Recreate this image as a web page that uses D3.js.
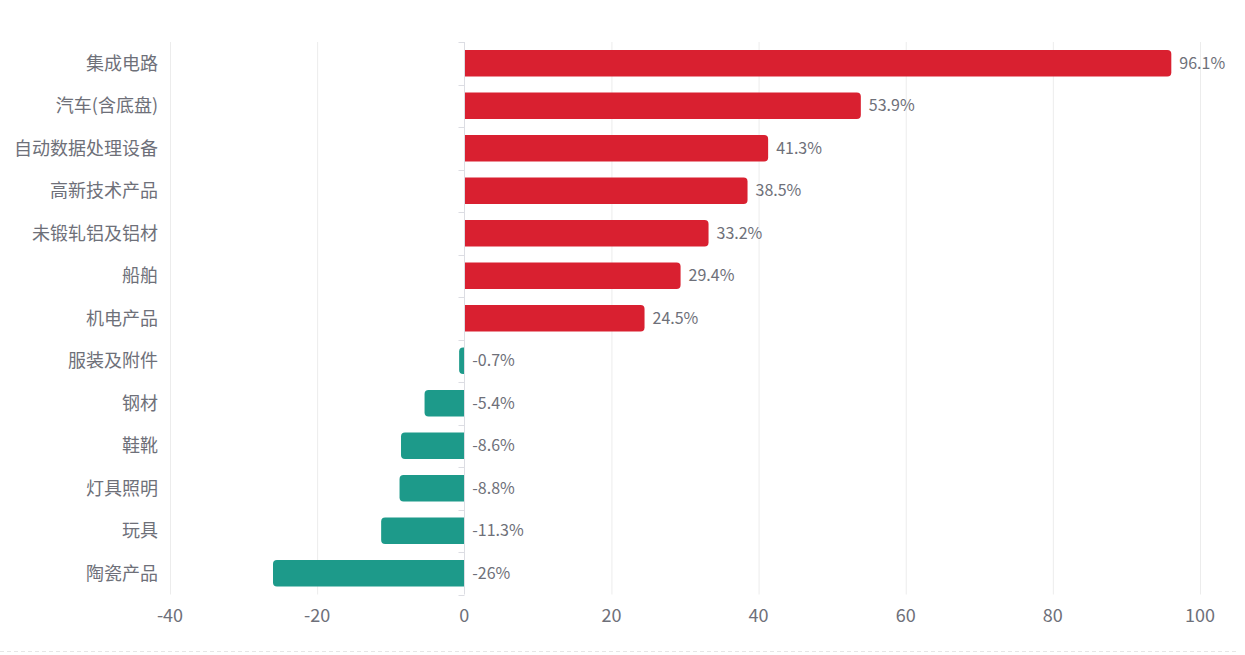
<!DOCTYPE html>
<html>
<head>
<meta charset="utf-8">
<script src="https://cdn.jsdelivr.net/npm/d3@7"></script>
<style>
  body { margin: 0; background: #fff; }
  svg text { font-family: "Noto Sans CJK SC", "Noto Sans", sans-serif; }
</style>
</head>
<body>
<div id="chart"></div>
<script>
// categories, top to bottom
var categories = ["集成电路", "汽车(含底盘)", "自动数据处理设备", "高新技术产品", "未锻轧铝及铝材",
    "船舶", "机电产品", "服装及附件", "钢材", "鞋靴", "灯具照明", "玩具", "陶瓷产品"];
// growth, %
var values = [96.1, 53.9, 41.3, 38.5, 33.2, 29.4, 24.5, -0.7, -5.4, -8.6, -8.8, -11.3, -26];
var labels = ["96.1%", "53.9%", "41.3%", "38.5%", "33.2%", "29.4%", "24.5%", "-0.7%", "-5.4%", "-8.6%", "-8.8%", "-11.3%", "-26%"];
var xTicks = [-40, -20, 0, 20, 40, 60, 80, 100];

var width = 1245, height = 655;
var margin = { top: 42, right: 45, bottom: 60.5, left: 170 };

var posColor = "#d92030";
var negColor = "#1d9a8a";
var textColor = "#6e7079";

var svg = d3.select("#chart")
    .append("svg")
    .attr("width", width)
    .attr("height", height);

var xScale = d3.scaleLinear()
    .domain([-40, 100])
    .range([margin.left, width - margin.right]);

var yScale = d3.scaleBand()
    .domain(categories)
    .range([margin.top, height - margin.bottom])
    .paddingInner(0.38)
    .paddingOuter(0.19);

var step = yScale.step();
var plotTop = margin.top, plotBottom = height - margin.bottom;

// vertical grid lines
svg.append("g")
    .selectAll("line")
    .data(xTicks.filter(function (d) { return d !== 0; }))
    .enter()
    .append("line")
    .attr("x1", function (d) { return xScale(d) + 0.5; })
    .attr("x2", function (d) { return xScale(d) + 0.5; })
    .attr("y1", plotTop)
    .attr("y2", plotBottom)
    .attr("stroke", "#ececec")
    .attr("stroke-width", 1);

// x axis tick labels
svg.append("g")
    .selectAll("text")
    .data(xTicks)
    .enter()
    .append("text")
    .attr("x", function (d) { return xScale(d); })
    .attr("y", plotBottom + 27)
    .attr("text-anchor", "middle")
    .attr("font-size", "18px")
    .attr("fill", textColor)
    .text(function (d) { return d; });

// bars, rounded on the outer end only
function barPath(d) {
    var x0 = xScale(0), x1 = xScale(d.v);
    var y0 = yScale(d.c), h = yScale.bandwidth();
    var r = Math.min(4, Math.abs(x1 - x0));
    if (d.v >= 0) {
        return "M" + x0 + "," + y0 + "H" + (x1 - r) + "Q" + x1 + "," + y0 + " " + x1 + "," + (y0 + r) +
            "V" + (y0 + h - r) + "Q" + x1 + "," + (y0 + h) + " " + (x1 - r) + "," + (y0 + h) + "H" + x0 + "Z";
    }
    return "M" + x0 + "," + y0 + "H" + (x1 + r) + "Q" + x1 + "," + y0 + " " + x1 + "," + (y0 + r) +
        "V" + (y0 + h - r) + "Q" + x1 + "," + (y0 + h) + " " + (x1 + r) + "," + (y0 + h) + "H" + x0 + "Z";
}

var rows = categories.map(function (c, i) { return { c: c, v: values[i], l: labels[i] }; });

svg.append("g")
    .selectAll("path")
    .data(rows)
    .enter()
    .append("path")
    .attr("d", barPath)
    .attr("fill", function (d) { return d.v >= 0 ? posColor : negColor; });

// value labels
svg.append("g")
    .selectAll("text")
    .data(rows)
    .enter()
    .append("text")
    .attr("x", function (d) { return d.v >= 0 ? xScale(d.v) + 8 : xScale(0) + 8; })
    .attr("y", function (d) { return yScale(d.c) + yScale.bandwidth() / 2; })
    .attr("dy", "0.35em")
    .attr("font-size", "16px")
    .attr("fill", textColor)
    .text(function (d) { return d.l; });

// y axis line at zero with ticks between categories
var x0 = Math.round(xScale(0)) + 0.5;
svg.append("line")
    .attr("x1", x0).attr("x2", x0)
    .attr("y1", plotTop).attr("y2", plotBottom)
    .attr("stroke", "#dcdde3");

var boundaries = d3.range(categories.length + 1).map(function (i) { return plotTop + i * step; });
svg.append("g")
    .selectAll("line")
    .data(boundaries)
    .enter()
    .append("line")
    .attr("x1", x0 - 6).attr("x2", x0)
    .attr("y1", function (d) { return Math.round(d) + 0.5; })
    .attr("y2", function (d) { return Math.round(d) + 0.5; })
    .attr("stroke", "#dcdde3");

// category labels
svg.append("g")
    .selectAll("text")
    .data(categories)
    .enter()
    .append("text")
    .attr("x", margin.left - 12)
    .attr("y", function (d) { return yScale(d) + yScale.bandwidth() / 2; })
    .attr("dy", "0.35em")
    .attr("text-anchor", "end")
    .attr("font-size", "18px")
    .attr("fill", textColor)
    .text(function (d) { return d; });

// dashed line at the bottom
svg.append("line")
    .attr("x1", 0).attr("x2", 1237)
    .attr("y1", 651.5).attr("y2", 651.5)
    .attr("stroke", "#e6e6e6")
    .attr("stroke-dasharray", "4,3");
</script>
</body>
</html>
